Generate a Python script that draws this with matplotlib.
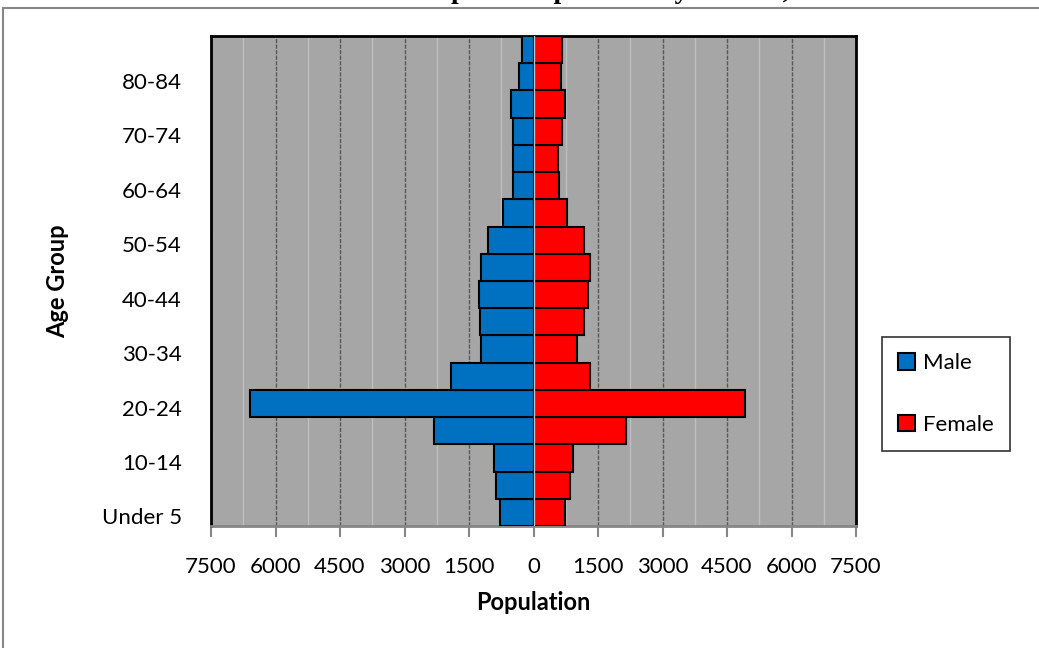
import numpy as np
import matplotlib
matplotlib.use('Agg')
import matplotlib.pyplot as plt
import matplotlib.transforms as mtransforms
from matplotlib.patches import Rectangle
from matplotlib.ticker import MultipleLocator, FixedLocator

plt.rcParams['font.family'] = ['Lato', 'DejaVu Sans']

# age groups, bottom to top
age_groups = ['Under 5', '5-9', '10-14', '15-19', '20-24', '25-29', '30-34',
              '35-39', '40-44', '45-49', '50-54', '55-59', '60-64', '65-69',
              '70-74', '75-79', '80-84', '85+']
male = [790, 870, 920, 2320, 6590, 1930, 1225, 1255, 1265, 1215,
        1050, 700, 480, 480, 480, 520, 335, 265]
female = [725, 850, 910, 2155, 4920, 1320, 1010, 1165, 1275, 1315,
          1165, 775, 590, 570, 655, 725, 640, 655]
xticks = [-7500, -6000, -4500, -3000, -1500, 0, 1500, 3000, 4500, 6000, 7500]

W, H = 1039, 648
fig = plt.figure(figsize=(W / 100, H / 100), dpi=100)
fig.patch.set_facecolor('white')

# outer chart border
fig.patches.append(Rectangle((3 / W, -0.05), 1.0, 1.05 - 8 / H,
                             transform=fig.transFigure, fill=False,
                             edgecolor='#868686', linewidth=1.5))

# title mostly cut off at the top
fig.text(530 / W, 1 + 2 / H, "Stamford Area's Hispanic Population by Gender, 2010",
         ha='center', va='baseline', fontsize=20, fontweight='bold',
         family='Liberation Serif')

ax = fig.add_axes([211 / W, 1 - 526 / H, 645 / W, 490 / H])
ax.set_facecolor('#A6A6A6')

y = np.arange(len(age_groups))
ax.barh(y, -np.array(male), height=1.0, color='#0070C0', edgecolor='black',
        linewidth=1.5, label='Male', zorder=3)
ax.barh(y, female, height=1.0, color='#FF0000', edgecolor='black',
        linewidth=1.5, label='Female', zorder=3)
ax.axvline(0, color='#BFBFBF', linewidth=1, zorder=4)

ax.set_xlim(-7500, 7500)
ax.set_ylim(-0.5, len(age_groups) - 0.5)

ax.xaxis.set_major_locator(FixedLocator(xticks))
ax.xaxis.set_minor_locator(MultipleLocator(750))
ax.set_xticklabels([str(abs(v)) for v in xticks])
ax.grid(axis='x', which='major', color='#595959', linewidth=1,
        linestyle=(0, (3, 1)), zorder=1)
ax.grid(axis='x', which='minor', color='#BFBFBF', linewidth=1, zorder=1)
ax.tick_params(axis='x', which='major', direction='out', length=8,
               color='#868686', width=1.5, labelsize=16, pad=14)
ax.tick_params(axis='x', which='minor', length=0)

ax.set_yticks(y[::2])
ax.set_yticklabels(age_groups[::2])
ax.tick_params(axis='y', length=0, labelsize=16, pad=21)
# labels sit a little below the bar centres
offset = mtransforms.ScaledTranslation(0, -4 / 100, fig.dpi_scale_trans)
for lbl in ax.get_yticklabels():
    lbl.set_transform(lbl.get_transform() + offset)

for s in ['top', 'left', 'right']:
    ax.spines[s].set_color('black')
    ax.spines[s].set_linewidth(2)
ax.spines['bottom'].set_color('#868686')
ax.spines['bottom'].set_linewidth(2)

# axis titles
fig.text(533 / W, 1 - 602 / H, 'Population', ha='center', va='center',
         fontsize=17, fontweight='bold')
fig.text(58 / W, 1 - 281 / H, 'Age Group', ha='center', va='center',
         rotation=90, fontsize=17, fontweight='bold')

leg = fig.legend(loc='center', bbox_to_anchor=(946 / W, 1 - 394 / H),
                 fontsize=16, frameon=True, fancybox=False, labelspacing=1.85,
                 handlelength=0.77, handleheight=0.77, handletextpad=0.35,
                 borderpad=0.75, borderaxespad=0)
leg.get_frame().set_edgecolor('black')
leg.get_frame().set_linewidth(1.2)

fig.savefig('out.png', dpi=100)
